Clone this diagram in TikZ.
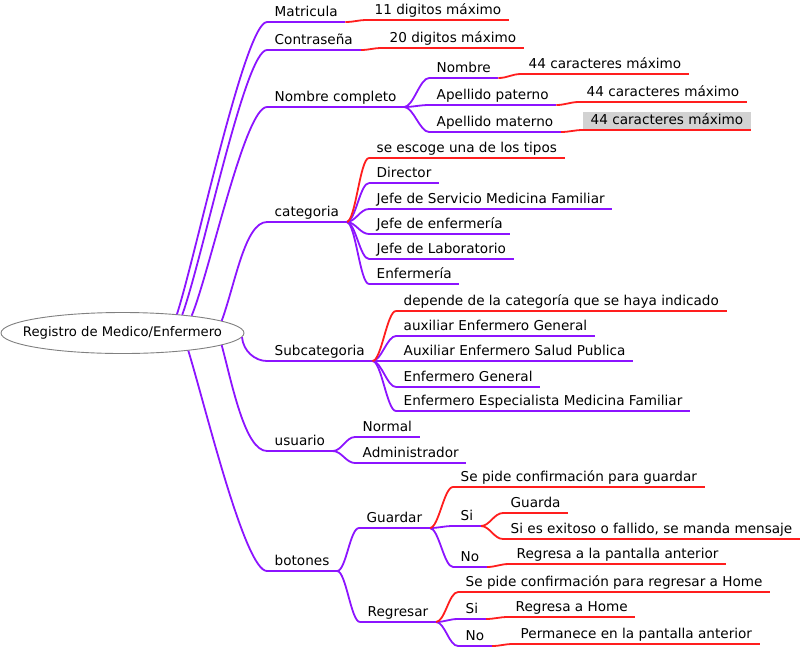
\documentclass[tikz,border=0pt]{standalone}
\usepackage{fontspec}
\setmainfont{DejaVu Sans}
\usetikzlibrary{shapes.geometric}
\definecolor{mor}{RGB}{140,20,255}
\definecolor{roj}{RGB}{255,30,30}

\begin{document}
\begin{tikzpicture}[x=1pt,y=-1pt,font=\fontsize{13.6}{16}\selectfont,
  lm/.style={draw=mor,line width=1.8pt},
  lr/.style={draw=roj,line width=1.8pt},
  hijo/.style={out=0,in=180,out distance=9pt,in distance=9pt},
  rama/.style 2 args={out=#1,in=180,out distance=#2,in distance=22pt}]
\useasboundingbox (0,0) rectangle (800,649);
\node[ellipse,draw=gray,line width=0.9pt,fill=white,inner sep=0pt,minimum width=243pt,minimum height=41pt,
  font=\fontsize{13.2}{16}\selectfont] (raiz) at (122.5,333) {\makebox[0pt]{Registro de Medico/Enfermero}};
\begin{scope}[every node/.append style={anchor=south west,inner xsep=7.5pt,inner ysep=2pt,text height=11pt,text depth=3pt}]
\node (mat) at (267,22) {Matricula};
\node (mat1) at (367,20) {11 digitos máximo};
\node (con) at (267,50) {Contraseña};
\node (con1) at (382,48) {20 digitos máximo};
\node (nom) at (267,107) {Nombre completo};
\node (nom1) at (429,78) {Nombre};
\node (nom2) at (429,105) {Apellido paterno};
\node (nom3) at (429,132) {Apellido materno};
\node (lim1) at (521,74) {44 caracteres máximo};
\node (lim2) at (579,102) {44 caracteres máximo};
\node[fill=gray!35] (lim3) at (583,130) {44 caracteres máximo};
\node (cat) at (267,222) {categoria};
\node (cat0) at (369,158) {se escoge una de los tipos};
\node (cat1) at (369,183) {Director};
\node (cat2) at (369,209) {Jefe de Servicio Medicina Familiar};
\node (cat3) at (369,234) {Jefe de enfermería};
\node (cat4) at (369,259) {Jefe de Laboratorio};
\node (cat5) at (369,284) {Enfermería};
\node (sub) at (267,361) {Subcategoria};
\node (sub0) at (396,311) {depende de la categoría que se haya indicado};
\node (sub1) at (396,336) {auxiliar Enfermero General};
\node (sub2) at (396,361) {Auxiliar Enfermero Salud Publica};
\node (sub3) at (396,387) {Enfermero General};
\node (sub4) at (396,411) {Enfermero Especialista Medicina Familiar};
\node (usu) at (267,451) {usuario};
\node (usu1) at (355,437) {Normal};
\node (usu2) at (355,463) {Administrador};
\node (bot) at (267,571) {botones};
\node (gua) at (359,528) {Guardar};
\node (gua0) at (453,487) {Se pide confirmación para guardar};
\node (gsi) at (453,526) {Si};
\node (gsi1) at (503,513) {Guarda};
\node (gsi2) at (503,539) {Si es exitoso o fallido, se manda mensaje};
\node (gno) at (453,567) {No};
\node (gno1) at (509,564) {Regresa a la pantalla anterior};
\node (rgr) at (360,622) {Regresar};
\node (rgr0) at (458,592) {Se pide confirmación para regresar a Home};
\node (rsi) at (458,619) {Si};
\node (rsi1) at (508,617) {Regresa a Home};
\node (rno) at (458,646) {No};
\node (rno1) at (513,644) {Permanece en la pantalla anterior};
\end{scope}
\draw[lm] (raiz.19) to[rama={72}{60pt}] (mat.south west);
\draw[lm] (raiz.17) to[rama={70}{60pt}] (con.south west);
\draw[lm] (raiz.14) to[rama={68}{50pt}] (nom.south west);
\draw[lm] (raiz.7) to[rama={70}{40pt}] (cat.south west);
\draw[lm] (raiz.-2) to[rama={-85}{14pt},in distance=12pt] (sub.south west);
\draw[lm] (raiz.-7) to[rama={-75}{40pt}] (usu.south west);
\draw[lm] (raiz.-15) to[rama={-73}{60pt}] (bot.south west);
\foreach \a/\b in {nom/nom1,nom/nom2,nom/nom3,cat/cat1,cat/cat2,cat/cat3,cat/cat4,cat/cat5,
    sub/sub1,sub/sub2,sub/sub3,sub/sub4,usu/usu1,usu/usu2,bot/gua,bot/rgr,
    gua/gsi,gua/gno,rgr/rsi,rgr/rno}
  \draw[lm] (\a.south east) to[hijo] (\b.south west);
\foreach \a/\b in {mat/mat1,con/con1,nom1/lim1,nom2/lim2,nom3/lim3,cat/cat0,sub/sub0,
    gua/gua0,gsi/gsi1,gsi/gsi2,gno/gno1,rgr/rgr0,rsi/rsi1,rno/rno1}
  \draw[lr] (\a.south east) to[hijo] (\b.south west);
\foreach \n in {mat,con,nom,nom1,nom2,nom3,cat,cat1,cat2,cat3,cat4,cat5,sub,sub1,sub2,sub3,sub4,
    usu,usu1,usu2,bot,gua,rgr,gsi,gno,rsi,rno}
  \draw[lm] (\n.south west) -- (\n.south east);
\foreach \n in {mat1,con1,lim1,lim2,lim3,cat0,sub0,gua0,gsi1,gsi2,gno1,rgr0,rsi1,rno1}
  \draw[lr] (\n.south west) -- (\n.south east);
\end{tikzpicture}
\end{document}
